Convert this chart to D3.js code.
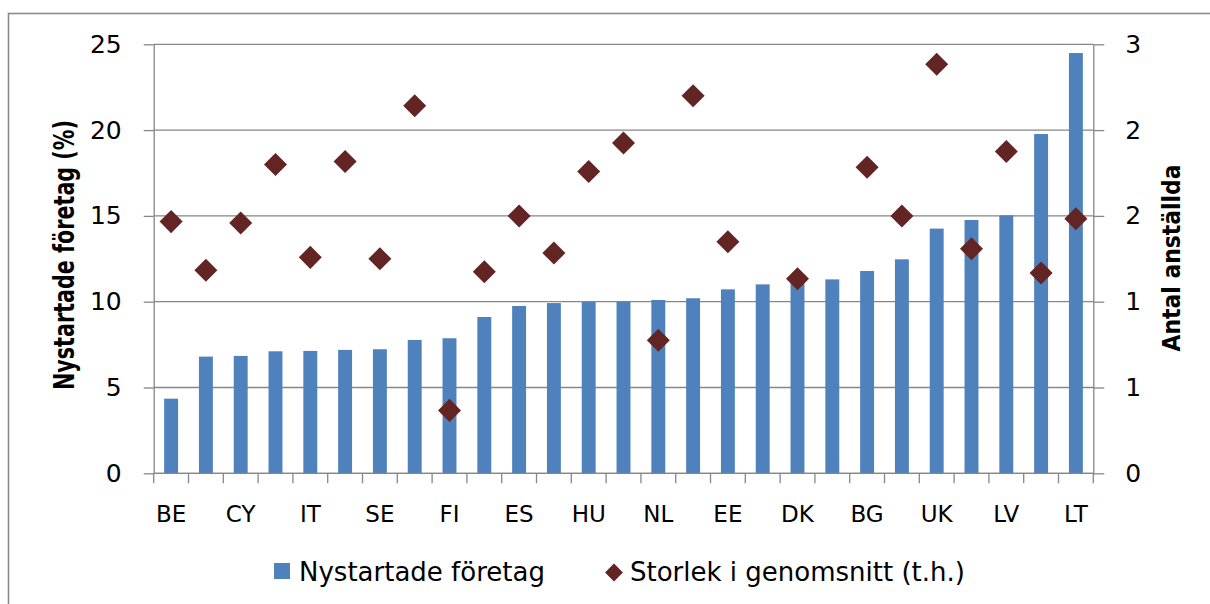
<!DOCTYPE html>
<html>
<head>
<meta charset="utf-8">
<script src="https://cdnjs.cloudflare.com/ajax/libs/d3/7.8.5/d3.min.js"></script>
<style>
  html, body { margin: 0; padding: 0; background: #fff; }
  svg { display: block; }
  text { font-family: "DejaVu Sans", sans-serif; fill: #000; }
</style>
</head>
<body>
<div id="chart-mount"></div>
<script>
var WIDTH = 1210;
var HEIGHT = 604;
var BAR_COLOR = '#4f81bd';
var DOT_COLOR = '#632523';
var GRID_COLOR = '#868686';

// country codes, sorted by share of new firms (only every other one is labelled)
var countries = ['BE', 'CZ', 'CY', 'DE', 'IT', 'IE', 'SE', 'EL', 'FI', 'FR', 'ES', 'LU', 'HU', 'MT',
  'NL', 'AT', 'EE', 'PL', 'DK', 'PT', 'BG', 'RO', 'UK', 'SI', 'LV', 'SK', 'LT'];
// Nystartade företag (%)
var newFirms = [4.35, 6.80, 6.84, 7.11, 7.13, 7.19, 7.23, 7.77, 7.87, 9.11, 9.75, 9.92, 9.98, 10.0,
  10.1, 10.2, 10.72, 11.01, 11.11, 11.3, 11.79, 12.47, 14.26, 14.76, 15.03, 19.77, 24.49];
// Storlek i genomsnitt (antal anställda), null where no value
var avgSize = [1.76, 1.42, 1.75, 2.16, 1.51, 2.18, 1.50, 2.57, 0.44, 1.41, 1.80, 1.54, 2.11, 2.31,
  0.93, 2.64, 1.62, null, 1.36, null, 2.14, 1.80, 2.86, 1.57, 2.25, 1.40, 1.78];

var leftTicks = [0, 5, 10, 15, 20, 25];
var rightTicks = [0, 0.6, 1.2, 1.8, 2.4, 3];
var legendLabels = ['Nystartade företag', 'Storlek i genomsnitt (t.h.)'];

var plot = { left: 153.7, right: 1093.3, top: 44.3, bottom: 473.3 };

var $svg = d3.select('#chart-mount').append('svg')
  .attr('width', WIDTH)
  .attr('height', HEIGHT);

var x = d3.scaleBand()
  .domain(countries)
  .range([plot.left, plot.right])
  .paddingInner(0.6)
  .paddingOuter(0.3);

var yLeft = d3.scaleLinear().domain([0, 25]).range([plot.bottom, plot.top]);
var yRight = d3.scaleLinear().domain([0, 3]).range([plot.bottom, plot.top]);

function diamond (size) {
  // square symbol turned 45 degrees, like the excel marker
  return d3.symbol().type(d3.symbolSquare).size(size)();
}

function drawFrame () {
  $svg.append('rect')
    .attr('width', WIDTH).attr('height', HEIGHT)
    .attr('fill', '#fff');
  $svg.append('rect')
    .attr('x', 8.5).attr('y', 13.5)
    .attr('width', WIDTH + 20).attr('height', HEIGHT + 20)
    .attr('fill', 'none')
    .attr('stroke', '#8a8a8a')
    .attr('stroke-width', 1.6);
}

function drawGrid () {
  $svg.append('g')
    .selectAll('line')
    .data(leftTicks)
    .enter()
      .append('line')
      .attr('x1', plot.left).attr('x2', plot.right)
      .attr('y1', function (d) { return yLeft(d); })
      .attr('y2', function (d) { return yLeft(d); })
      .attr('stroke', GRID_COLOR)
      .attr('stroke-width', 1.3);
}

function styleAxis (g) {
  g.select('.domain').attr('stroke', GRID_COLOR).attr('stroke-width', 1.3);
  g.selectAll('.tick line').attr('stroke', GRID_COLOR).attr('stroke-width', 1.3);
  g.selectAll('.tick text')
    .attr('fill', '#000')
    .style('font-family', '"DejaVu Sans", sans-serif')
    .style('font-size', '25px');
}

function drawAxes () {
  $svg.append('g')
    .attr('transform', 'translate(' + plot.left + ',0)')
    .call(d3.axisLeft(yLeft).tickValues(leftTicks).tickSize(10).tickPadding(22).tickSizeOuter(0))
    .call(styleAxis);

  $svg.append('g')
    .attr('transform', 'translate(' + plot.right + ',0)')
    .call(d3.axisRight(yRight).tickValues(rightTicks).tickSize(11).tickPadding(21)
      .tickSizeOuter(0).tickFormat(d3.format('.0f')))
    .call(styleAxis);

  // category axis: ticks sit between the bars
  var step = x.step();
  var bounds = d3.range(countries.length + 1).map(function (i) { return plot.left + i * step; });
  var bottom = $svg.append('g');
  bottom.append('line')
    .attr('x1', plot.left).attr('x2', plot.right)
    .attr('y1', plot.bottom).attr('y2', plot.bottom)
    .attr('stroke', GRID_COLOR).attr('stroke-width', 1.3);
  bottom.selectAll('line.tick')
    .data(bounds)
    .enter()
      .append('line')
      .attr('class', 'tick')
      .attr('x1', function (d) { return d; })
      .attr('x2', function (d) { return d; })
      .attr('y1', plot.bottom).attr('y2', plot.bottom + 10)
      .attr('stroke', GRID_COLOR).attr('stroke-width', 1.3);
  bottom.selectAll('text')
    .data(countries.filter(function (d, i) { return i % 2 === 0; }))
    .enter()
      .append('text')
      .attr('x', function (d) { return x(d) + x.bandwidth() / 2; })
      .attr('y', 521.5)
      .attr('text-anchor', 'middle')
      .style('font-size', '23px')
      .text(function (d) { return d; });

  // axis titles
  $svg.append('text')
    .attr('transform', 'translate(74,255) rotate(-90)')
    .attr('text-anchor', 'middle')
    .attr('textLength', 270)
    .attr('lengthAdjust', 'spacingAndGlyphs')
    .style('font-size', '28px')
    .style('font-weight', 'bold')
    .text('Nystartade företag (%)');

  $svg.append('text')
    .attr('transform', 'translate(1180,258) rotate(-90)')
    .attr('text-anchor', 'middle')
    .attr('textLength', 187)
    .attr('lengthAdjust', 'spacingAndGlyphs')
    .style('font-size', '25px')
    .style('font-weight', 'bold')
    .text('Antal anställda');
}

function drawBars () {
  $svg.append('g')
    .selectAll('rect')
    .data(newFirms)
    .enter()
      .append('rect')
      .attr('x', function (d, i) { return x(countries[i]); })
      .attr('y', function (d) { return yLeft(d); })
      .attr('width', x.bandwidth())
      .attr('height', function (d) { return plot.bottom - yLeft(d); })
      .attr('fill', BAR_COLOR);
}

function drawDots () {
  var points = avgSize
    .map(function (v, i) { return { c: countries[i], v: v }; })
    .filter(function (d) { return d.v !== null; });

  $svg.append('g')
    .selectAll('path')
    .data(points)
    .enter()
      .append('path')
      .attr('d', diamond(265))
      .attr('transform', function (d) {
        return 'translate(' + (x(d.c) + x.bandwidth() / 2) + ',' + yRight(d.v) + ') rotate(45)';
      })
      .attr('fill', DOT_COLOR);
}

function drawLegend () {
  var g = $svg.append('g');
  g.append('rect')
    .attr('x', 274).attr('y', 563)
    .attr('width', 16).attr('height', 16)
    .attr('fill', BAR_COLOR);
  g.append('text')
    .attr('x', 299).attr('y', 581)
    .style('font-size', '26px')
    .text(legendLabels[0]);

  g.append('path')
    .attr('d', diamond(160))
    .attr('transform', 'translate(614,572.5) rotate(45)')
    .attr('fill', DOT_COLOR);
  g.append('text')
    .attr('x', 630).attr('y', 581)
    .style('font-size', '26px')
    .text(legendLabels[1]);
}

drawFrame();
drawGrid();
drawBars();
drawAxes();
drawDots();
drawLegend();
</script>
</body>
</html>
